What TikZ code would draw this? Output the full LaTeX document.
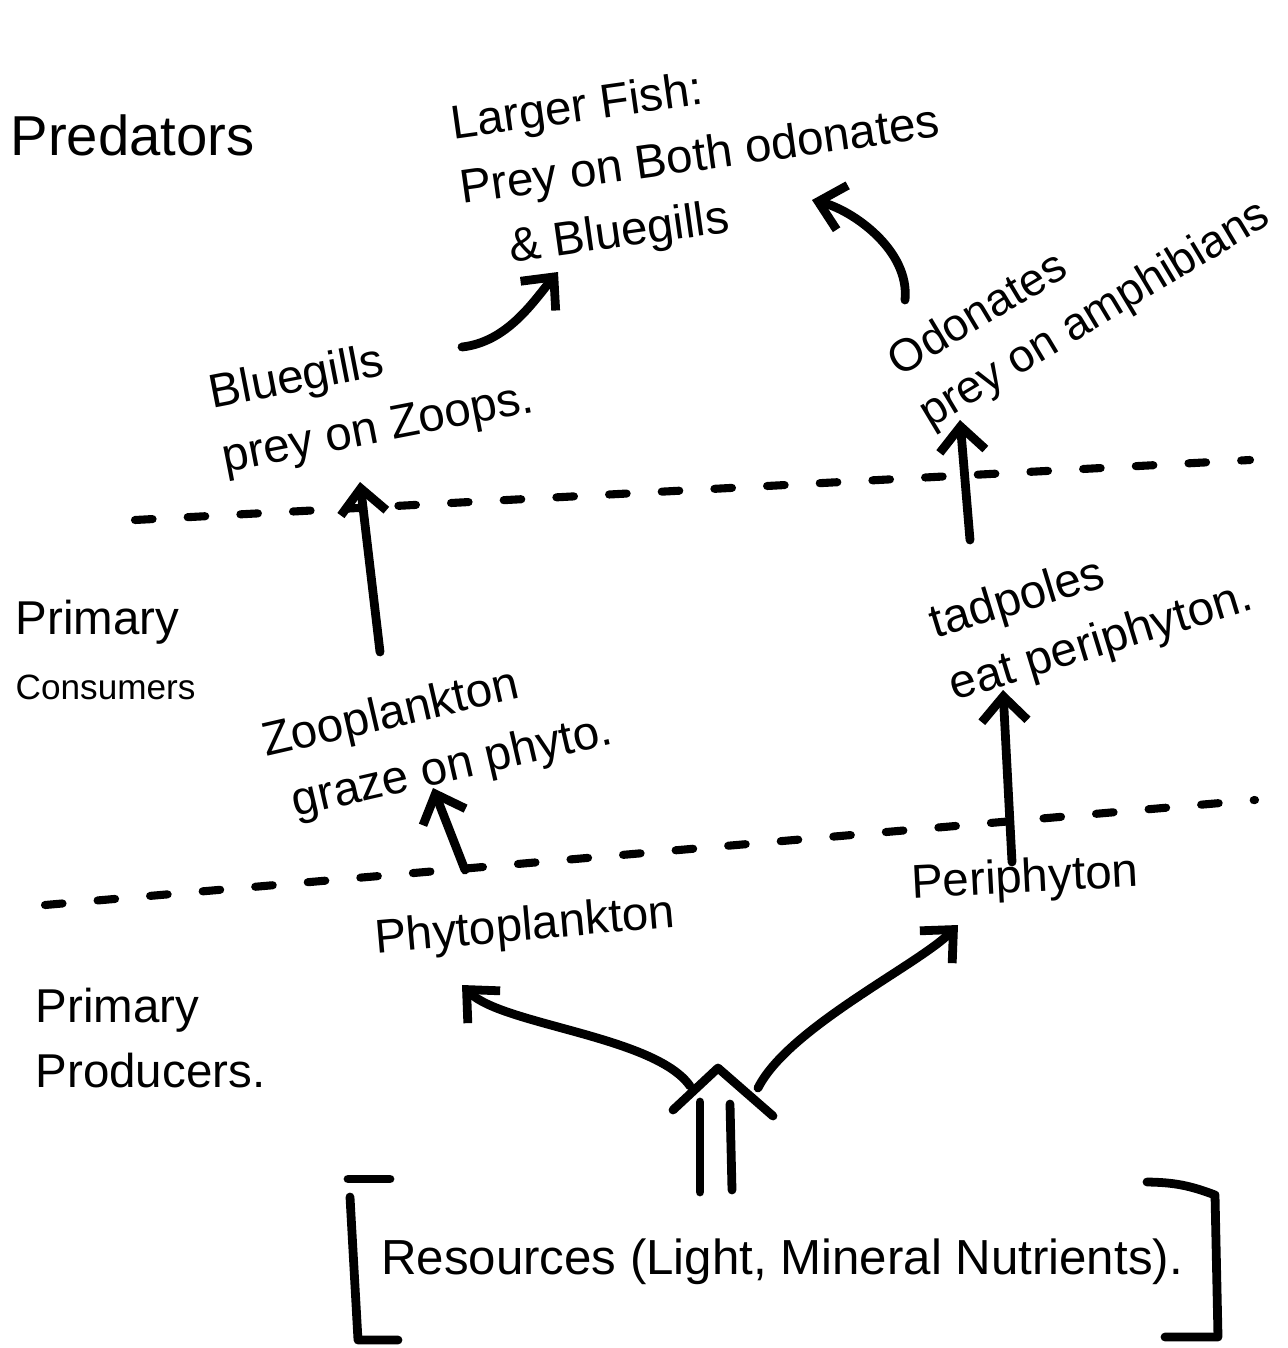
\documentclass[tikz,border=0pt]{standalone}
\usepackage{fontspec}
\setmainfont{Liberation Sans}
\usetikzlibrary{arrows.meta,calc}

\begin{document}
\begin{tikzpicture}
      [x = 0.01cm, y = -0.01cm,
      words/.style= {
         font = \fontsize{13.5}{18.5}\selectfont,
         align = left,
         inner sep = 0pt
      },
      pen/.style= {
         line width = 2.5pt,
         line cap = round,
         line join = round
      },
      flow/.style= {
         pen,
         -{Straight Barb[length = 7pt, width = 13pt]}
      },
      divider/.style= {
         line width = 2.3pt,
         line cap = round,
         dash pattern = on 5pt off 10pt
      }]
      \useasboundingbox (0, 0) rectangle (1288, 1348);

      % levels
      \node[words, anchor = west, font = \fontsize{16}{20}\selectfont] (predators) at (10, 135) {Predators};
      \node[words, anchor = west] (consumers) at (15, 650) {Primary\\{\fontsize{10}{12}\selectfont Consumers}};
      \node[words, anchor = west] (producers) at (35, 1038) {Primary\\Producers.};

      \draw[divider] (135, 520) -- (1250, 460);
      \draw[divider] (45, 905) -- (1255, 800);

      % organisms
      \node[words, rotate = 8] (fish) at (700, 158)
         {Larger Fish:\\Prey on Both odonates\\\hspace*{0.4cm}\& Bluegills};
      \node[words, rotate = 11] (bluegills) at (372, 398) {Bluegills\\prey on Zoops.};
      \node[words, rotate = 31, font = \fontsize{13}{17}\selectfont] (odonates) at (1080, 290) {Odonates\\prey on amphibians};
      \node[words, rotate = 17] (tadpoles) at (1092, 612) {tadpoles\\eat periphyton.};
      \node[words, rotate = 13] (zoo) at (438, 738) {Zooplankton\\\hspace*{0.15cm}graze on phyto.};
      \node[words, rotate = 5] (phyto) at (525, 928) {Phytoplankton};
      \node[words, rotate = 3] (peri) at (1025, 880) {Periphyton};

      \node[words, font = \fontsize{14}{18}\selectfont] (resources) at (782, 1262) {Resources (Light, Mineral Nutrients).};
      \draw[pen] ($(resources)+(-434, -83)$) -- ++(42, 0);
      \draw[pen] ($(resources)+(-432, -65)$) -- ($(resources)+(-424, 78)$) -- ++(40, 0);
      \draw[pen] ($(resources)+(365, -80)$) to[bend left = 10] ($(resources)+(433, -67)$)
         -- ($(resources)+(436, 75)$) -- ++(-53, 0);

      % resources split up
      \coordinate (split) at ($(resources)+(-64, -194)$);
      \draw[pen] ($(resources)+(-82, -70)$) -- ($(split)+(-18, 34)$);
      \draw[pen] ($(resources)+(-50, -72)$) -- ($(split)+(12, 36)$);
      \draw[pen] ($(split)+(-45, 42)$) -- (split) -- ($(split)+(55, 48)$);
      \draw[flow] ($(split)+(-28, 18)$) .. controls +(-35, -50) and +(40, 40) .. ($(phyto)+(-63, 57)$);
      \draw[flow] ($(split)+(40, 20)$) .. controls +(30, -60) and +(-40, 40) .. ($(peri)+(-67, 45)$);

      % feeding links
      \draw[flow] ($(phyto)+(-60, -58)$) -- ($(zoo)+(-5, 50)$);
      \draw[flow] ($(zoo)+(-58, -86)$) -- ($(bluegills)+(-12, 84)$);
      \draw[flow] ($(bluegills)+(90, -51)$) .. controls +(45, -5) and +(-25, 30) .. ($(fish)+(-142, 114)$);
      \draw[flow] ($(peri)+(-13, -18)$) -- ($(tadpoles)+(-89, 78)$);
      \draw[flow] ($(tadpoles)+(-122, -72)$) -- ($(odonates)+(-120, 130)$);
      \draw[flow] ($(odonates)+(-175, 10)$) .. controls +(5, -50) and +(40, 10) .. ($(fish)+(112, 42)$);
\end{tikzpicture}
\end{document}
